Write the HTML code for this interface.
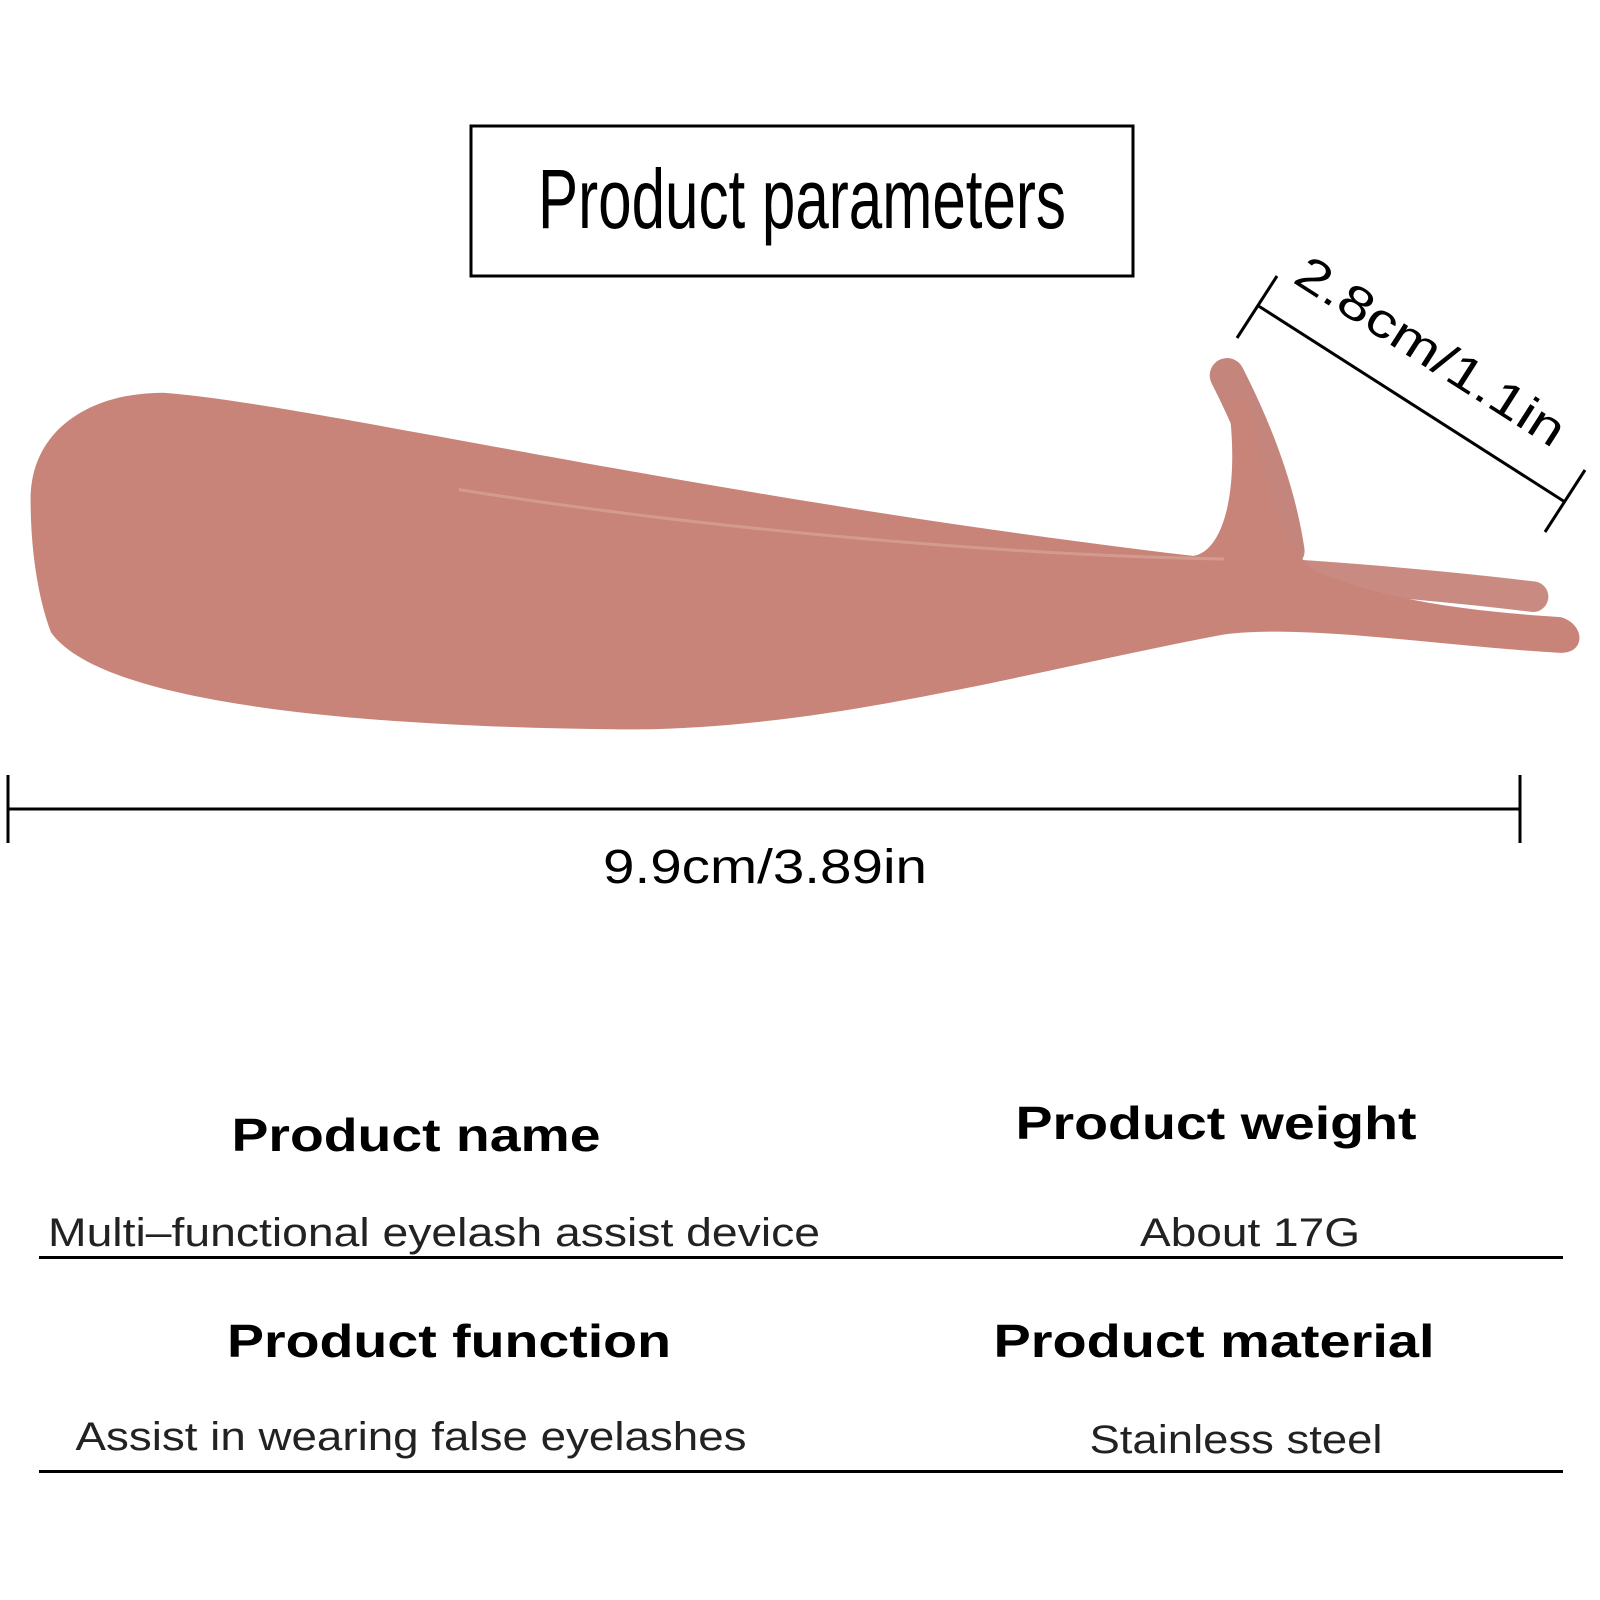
<!DOCTYPE html>
<html><head><style>html,body{margin:0;padding:0;background:#fff}svg{display:block}</style></head>
<body>
<svg width="1600" height="1600" viewBox="0 0 1600 1600" xmlns="http://www.w3.org/2000/svg" font-family="Liberation Sans, sans-serif">
<rect x="471" y="126" width="662" height="150" fill="none" stroke="#000" stroke-width="3"/>
<text x="802" y="228" text-anchor="middle" font-size="84" textLength="528" lengthAdjust="spacingAndGlyphs">Product parameters</text>

<g transform="scale(1.02)">
  <path d="M1203,368 Q1250,460 1262,540" stroke="#c4867c" stroke-width="34" fill="none" stroke-linecap="round"/>
  <path d="M1215,560 Q1380,570 1503,585" stroke="#c98b81" stroke-width="30" fill="none" stroke-linecap="round"/>
  <path d="M30,490 C30,420 90,385 160,385 C300,395 700,490 1170,545 C1200,540 1215,480 1205,400 Q1215,380 1225,395 C1240,470 1250,530 1290,560 C1360,590 1450,600 1530,605 C1555,612 1555,642 1528,640 C1400,632 1280,612 1200,622 C1000,660 800,718 600,715 C350,712 100,690 50,620 C35,580 30,530 30,490 Z" fill="#c88479"/>
  <path d="M450,480 C700,520 1000,545 1200,548" stroke="#d49a90" stroke-width="3" fill="none"/>
</g>

<g stroke="#000" stroke-width="3">
  <line x1="8" y1="809" x2="1520" y2="809"/>
  <line x1="8" y1="775" x2="8" y2="843"/>
  <line x1="1520" y1="775" x2="1520" y2="843"/>
  <line x1="1257" y1="305" x2="1565" y2="502"/>
  <line x1="1277" y1="276" x2="1237" y2="338"/>
  <line x1="1585" y1="470" x2="1545" y2="532"/>
</g>
<text x="765" y="883" text-anchor="middle" font-size="48" textLength="324" lengthAdjust="spacingAndGlyphs">9.9cm/3.89in</text>
<text transform="translate(1422,365) rotate(32.6)" text-anchor="middle" font-size="48" textLength="310" lengthAdjust="spacingAndGlyphs">2.8cm/1.1in</text>

<g font-weight="bold" font-size="46">
<text x="416" y="1151" text-anchor="middle" textLength="369" lengthAdjust="spacingAndGlyphs">Product name</text>
<text x="1216" y="1139" text-anchor="middle" textLength="401" lengthAdjust="spacingAndGlyphs">Product weight</text>
<text x="449" y="1357" text-anchor="middle" textLength="444" lengthAdjust="spacingAndGlyphs">Product function</text>
<text x="1214" y="1357" text-anchor="middle" textLength="441" lengthAdjust="spacingAndGlyphs">Product material</text>
</g>
<g font-size="40" fill="#222">
<text x="434" y="1246" text-anchor="middle" textLength="772" lengthAdjust="spacingAndGlyphs">Multi–functional eyelash assist device</text>
<text x="1250" y="1246" text-anchor="middle" textLength="220" lengthAdjust="spacingAndGlyphs">About 17G</text>
<text x="411" y="1450" text-anchor="middle" textLength="671" lengthAdjust="spacingAndGlyphs">Assist in wearing false eyelashes</text>
<text x="1236" y="1453" text-anchor="middle" textLength="293" lengthAdjust="spacingAndGlyphs">Stainless steel</text>
</g>
<rect x="39" y="1256" width="1524" height="3" fill="#000"/>
<rect x="39" y="1470" width="1524" height="3" fill="#000"/>
</svg>
</body></html>
